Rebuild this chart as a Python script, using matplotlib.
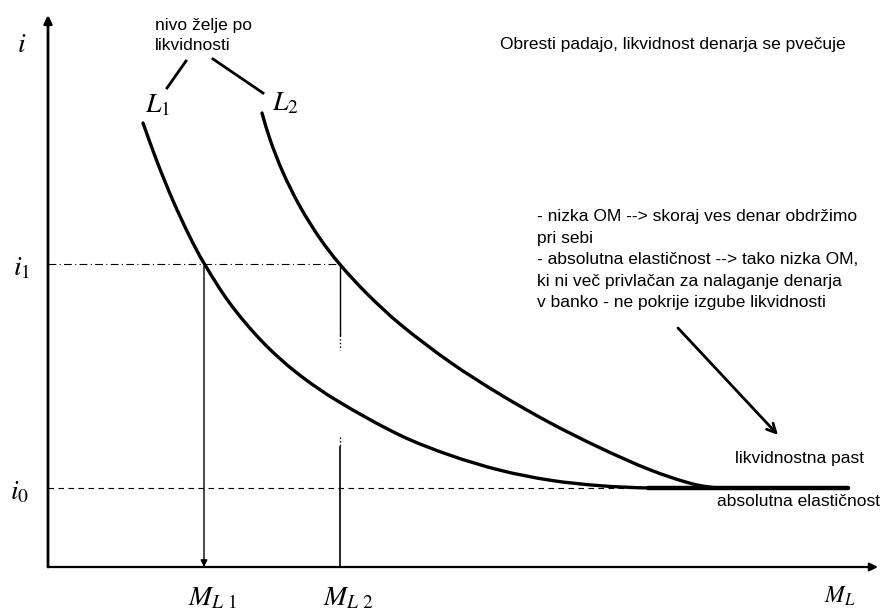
import matplotlib
matplotlib.use("Agg")
import math
import matplotlib.pyplot as plt
from matplotlib.path import Path
from matplotlib.patches import PathPatch

plt.rcParams['font.family'] = ['Liberation Sans', 'DejaVu Sans']
plt.rcParams['mathtext.fontset'] = 'stix'

# --- data ---
M_L1_curve = [0.95, 1.09, 1.25, 1.42, 1.56, 1.82, 2.15, 2.49, 2.89, 3.52, 4.02, 4.52, 5.02, 5.52, 6.02, 6.60]
i_L1_curve = [4.44, 4.055, 3.663, 3.298, 3.038, 2.635, 2.246, 1.94, 1.664, 1.318, 1.118, 0.968, 0.868, 0.813, 0.79, 0.79]
M_L2_curve = [2.14, 2.22, 2.35, 2.52, 2.72, 2.92, 3.19, 3.52, 4.02, 4.52, 5.02, 5.52, 6.02, 6.45, 6.72, 7.20]
i_L2_curve = [4.54, 4.276, 3.945, 3.605, 3.285, 3.025, 2.733, 2.429, 2.049, 1.727, 1.442, 1.192, 0.972, 0.830, 0.79, 0.79]
trap_start = 6.00
trap_end = 8.00
i1 = 3.03
i0 = 0.79
M_L1 = 1.56
M_L2 = 2.92
x_max = 8.30
y_max = 5.52

title_text = "Obresti padajo, likvidnost denarja se pvečuje"
note_text = ("- nizka OM --> skoraj ves denar obdržimo\npri sebi\n"
             "- absolutna elastičnost --> tako nizka OM,\n"
             "ki ni več privlačan za nalaganje denarja\n"
             "v banko - ne pokrije izgube likvidnosti")
desire_text = "nivo želje po\nlikvidnosti"


def smooth_path(xs, ys):
    """Smooth curve through the points (chord-length Hermite as cubic Bezier)."""
    pts = list(zip(xs, ys))
    n = len(pts)

    def unit(a, b):
        dx, dy = b[0] - a[0], b[1] - a[1]
        d = math.hypot(dx, dy) or 1.0
        return dx / d, dy / d

    tangents = []
    for k in range(n):
        a = pts[k - 1] if k > 0 else pts[k]
        b = pts[k + 1] if k < n - 1 else pts[k]
        tangents.append(unit(a, b))
    verts = [pts[0]]
    codes = [Path.MOVETO]
    for k in range(n - 1):
        p1, p2 = pts[k], pts[k + 1]
        d = math.hypot(p2[0] - p1[0], p2[1] - p1[1]) / 3
        c1 = (p1[0] + tangents[k][0] * d, p1[1] + tangents[k][1] * d)
        c2 = (p2[0] - tangents[k + 1][0] * d, p2[1] - tangents[k + 1][1] * d)
        verts += [c1, c2, p2]
        codes += [Path.CURVE4] * 3
    return Path(verts, codes)


fig = plt.figure(figsize=(8.85, 6.14), dpi=100)
ax = fig.add_axes([0, 0, 1, 1])
ax.set_xlim(-0.48, 8.37)
ax.set_ylim(-0.47, 5.67)
ax.axis('off')

# axes with arrows
ax.annotate('', xy=(0, y_max), xytext=(0, 0),
            arrowprops=dict(arrowstyle='-|>', lw=2.0, color='black', mutation_scale=12, shrinkA=0, shrinkB=0))
ax.annotate('', xy=(x_max, 0), xytext=(0, 0),
            arrowprops=dict(arrowstyle='-|>', lw=1.6, color='black', mutation_scale=12, shrinkA=0, shrinkB=0))

# guide lines
ax.plot([0, M_L2], [i1, i1], color='black', lw=0.8, linestyle=(0, (7, 3, 1, 3)))
ax.plot([0, 6.8], [i0, i0], color='black', lw=0.8, linestyle=(0, (5, 4)))
ax.annotate('', xy=(M_L1, 0), xytext=(M_L1, i1),
            arrowprops=dict(arrowstyle='-|>', lw=1.0, color='black', mutation_scale=10, shrinkA=0, shrinkB=0))
ax.plot([M_L2, M_L2], [i1, 2.32], color='black', lw=1.0)
ax.plot([M_L2, M_L2], [2.32, 2.17], color='black', lw=1.0, linestyle=':')
ax.plot([M_L2, M_L2], [1.30, 1.20], color='black', lw=1.0, linestyle=':')
ax.plot([M_L2, M_L2], [1.20, 0.0], color='black', lw=1.2)

# liquidity preference curves
for xs, ys in ((M_L1_curve, i_L1_curve), (M_L2_curve, i_L2_curve)):
    ax.add_patch(PathPatch(smooth_path(xs, ys), facecolor='none', edgecolor='black',
                           lw=2.4, capstyle='round', joinstyle='round'))
ax.plot([trap_start, trap_end], [i0, i0], color='black', lw=3.2, solid_capstyle='round')

# hand-written style labels
hand = dict(fontsize=20, color='black', ha='center', va='center')
ax.text(-0.26, 5.22, r'$i$', **hand)
ax.text(-0.26, 2.99, r'$i_{\mathit{1}}$', **hand)
ax.text(-0.28, 0.75, r'$i_{\mathit{0}}$', **hand)
ax.text(1.10, 4.62, r'$L_{\mathit{1}}$', **hand)
ax.text(2.37, 4.64, r'$L_{\mathit{2}}$', **hand)
ax.text(1.64, -0.31, r'$M_{L\ \mathit{1}}$', **hand)
ax.text(3.00, -0.31, r'$M_{L\ \mathit{2}}$', **hand)
ax.text(7.92, -0.29, r'$M_{L}$', fontsize=17, color='black', ha='center', va='center')

# leader lines for "nivo želje po likvidnosti"
ax.plot([1.38, 1.19], [5.06, 4.79], color='black', lw=2.0)
ax.plot([1.65, 2.15], [5.08, 4.74], color='black', lw=2.0)

# annotation texts
fs = 12.5
ax.text(1.07, 5.49, desire_text, fontsize=fs, ha='left', va='top', linespacing=1.45)
ax.text(4.52, 5.22, title_text, fontsize=fs, ha='left', va='center')
ax.text(4.89, 3.58, note_text, fontsize=fs, ha='left', va='top', linespacing=1.55)
ax.text(6.87, 1.09, "likvidnostna past", fontsize=fs, ha='left', va='center')
ax.text(6.69, 0.65, "absolutna elastičnost", fontsize=fs, ha='left', va='center')

# arrow to liquidity trap
ax.annotate('', xy=(7.30, 1.32), xytext=(6.30, 2.39),
            arrowprops=dict(arrowstyle='->', lw=2.0, color='black', mutation_scale=16, shrinkA=0, shrinkB=0))

fig.savefig('out.png', dpi=100)
